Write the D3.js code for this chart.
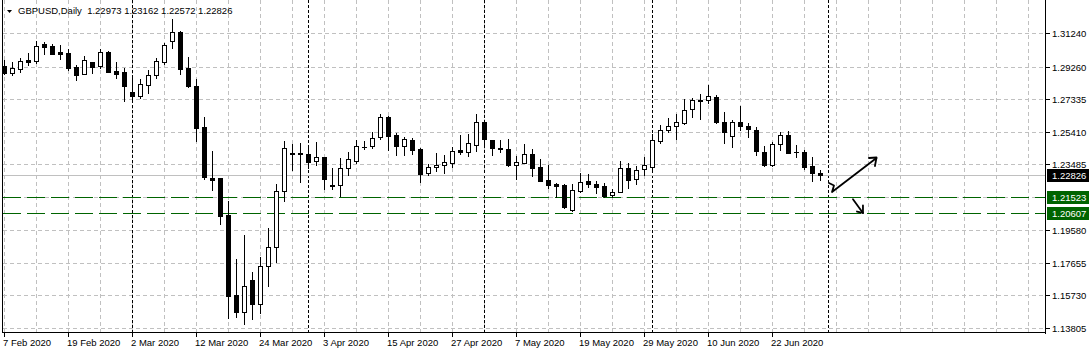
<!DOCTYPE html>
<html>
<head>
<meta charset="utf-8">
<script src="https://cdnjs.cloudflare.com/ajax/libs/d3/7.8.5/d3.min.js"></script>
<style>
  html, body { margin: 0; padding: 0; background: #fff; }
  svg { display: block; }
</style>
</head>
<body>
<div id="chart"></div>
<script>
// GBPUSD daily, 7 Feb 2020 .. 30 Jun 2020 (bar index 0..102)
let symbolTitle = "GBPUSD,Daily";
let lastQuote = ["1.22973", "1.23162", "1.22572", "1.22826"];

let open = [
  1.2931, 1.2886, 1.2913, 1.2967, 1.2960, 1.3057, 1.3047, 1.3012, 1.3006, 1.2923,
  1.2883, 1.2953, 1.2931, 1.3012, 1.2899, 1.2893, 1.2777, 1.2753, 1.2818, 1.2874,
  1.2954, 1.3075, 1.3128, 1.2915, 1.2809, 1.2568, 1.2267, 1.2269, 1.2048, 1.1575,
  1.1473, 1.1664, 1.1521, 1.1745, 1.1857, 1.2188, 1.2415, 1.2415, 1.2409, 1.2366,
  1.2390, 1.2226, 1.2224, 1.2324, 1.2369, 1.2451, 1.2454, 1.2508, 1.2630, 1.2519,
  1.2454, 1.2490, 1.2438, 1.2295, 1.2330, 1.2342, 1.2358, 1.2432, 1.2423, 1.2461,
  1.2596, 1.2492, 1.2446, 1.2438, 1.2342, 1.2357, 1.2409, 1.2332, 1.2255, 1.2232,
  1.2226, 1.2080, 1.2192, 1.2249, 1.2232, 1.2218, 1.2168, 1.2182, 1.2328, 1.2259,
  1.2318, 1.2334, 1.2488, 1.2549, 1.2573, 1.2590, 1.2673, 1.2728, 1.2728, 1.2744,
  1.2596, 1.2515, 1.2600, 1.2574, 1.2551, 1.2421, 1.2342, 1.2468, 1.2519, 1.2421,
  1.2421, 1.2338, 1.22973
];
let high = [
  1.2964, 1.2953, 1.2976, 1.3006, 1.3077, 1.3071, 1.3059, 1.3053, 1.3029, 1.2935,
  1.2990, 1.2953, 1.3028, 1.3018, 1.2953, 1.2919, 1.2857, 1.2852, 1.2905, 1.2976,
  1.3067, 1.3205, 1.3138, 1.2980, 1.2852, 1.2628, 1.2427, 1.2269, 1.2133, 1.1788,
  1.1930, 1.1710, 1.1800, 1.1972, 1.2230, 1.2486, 1.2466, 1.2476, 1.2456, 1.2478,
  1.2390, 1.2324, 1.2385, 1.2419, 1.2490, 1.2488, 1.2539, 1.2647, 1.2634, 1.2531,
  1.2511, 1.2503, 1.2442, 1.2348, 1.2415, 1.2405, 1.2450, 1.2519, 1.2525, 1.2644,
  1.2600, 1.2492, 1.2492, 1.2499, 1.2400, 1.2468, 1.2437, 1.2378, 1.2344, 1.2240,
  1.2232, 1.2232, 1.2298, 1.2291, 1.2251, 1.2236, 1.2200, 1.2367, 1.2357, 1.2340,
  1.2390, 1.2529, 1.2580, 1.2620, 1.2645, 1.2732, 1.2738, 1.2764, 1.2817, 1.2757,
  1.2655, 1.2610, 1.2692, 1.2594, 1.2567, 1.2456, 1.2482, 1.2541, 1.2543, 1.2462,
  1.2433, 1.2390, 1.23162
];
let low = [
  1.2883, 1.2874, 1.2894, 1.2935, 1.2947, 1.3002, 1.2998, 1.2970, 1.2905, 1.2846,
  1.2883, 1.2889, 1.2915, 1.2895, 1.2858, 1.2724, 1.2728, 1.2742, 1.2771, 1.2858,
  1.2941, 1.3037, 1.2882, 1.2807, 1.2488, 1.2263, 1.2198, 1.1997, 1.1441, 1.1447,
  1.1402, 1.1435, 1.1467, 1.1631, 1.1771, 1.2129, 1.2314, 1.2242, 1.2328, 1.2344,
  1.2204, 1.2204, 1.2163, 1.2287, 1.2354, 1.2437, 1.2443, 1.2499, 1.2434, 1.2405,
  1.2405, 1.2407, 1.2245, 1.2283, 1.2308, 1.2298, 1.2334, 1.2409, 1.2397, 1.2428,
  1.2470, 1.2403, 1.2423, 1.2338, 1.2260, 1.2354, 1.2279, 1.2251, 1.2206, 1.2157,
  1.2090, 1.2070, 1.2186, 1.2212, 1.2180, 1.2157, 1.2153, 1.2182, 1.2206, 1.2232,
  1.2285, 1.2318, 1.2476, 1.2541, 1.2499, 1.2584, 1.2629, 1.2618, 1.2708, 1.2590,
  1.2472, 1.2452, 1.2550, 1.2511, 1.2403, 1.2340, 1.2338, 1.2432, 1.2413, 1.2389,
  1.2318, 1.2251, 1.22572
];
let close = [
  1.2889, 1.2915, 1.2957, 1.2953, 1.3045, 1.3043, 1.3002, 1.3002, 1.2919, 1.2876,
  1.2964, 1.2925, 1.3012, 1.2895, 1.2883, 1.2813, 1.2753, 1.2821, 1.2874, 1.2957,
  1.3053, 1.3128, 1.2911, 1.2813, 1.2564, 1.2271, 1.2257, 1.2044, 1.1571, 1.1477,
  1.1627, 1.1524, 1.1745, 1.1857, 1.2188, 1.2443, 1.2407, 1.2409, 1.2363, 1.2390,
  1.2263, 1.2218, 1.2324, 1.2377, 1.2454, 1.2449, 1.2502, 1.2626, 1.2517, 1.2454,
  1.2496, 1.2434, 1.2292, 1.2330, 1.2342, 1.2362, 1.2427, 1.2422, 1.2472, 1.2596,
  1.2496, 1.2443, 1.2438, 1.2344, 1.2362, 1.2409, 1.2328, 1.2251, 1.2228, 1.2222,
  1.2097, 1.2196, 1.2242, 1.2230, 1.2216, 1.2159, 1.2183, 1.2328, 1.2257, 1.2316,
  1.2342, 1.2492, 1.2551, 1.2573, 1.2598, 1.2667, 1.2726, 1.2724, 1.2750, 1.2600,
  1.2541, 1.2600, 1.2574, 1.2555, 1.2425, 1.2346, 1.2468, 1.2519, 1.2416, 1.2420,
  1.2330, 1.2295, 1.22826
];

let xTickIndex = [0, 8, 16, 24, 32, 40, 48, 56, 64, 72, 80, 88, 96];
let xTickLabels = ["7 Feb 2020", "19 Feb 2020", "2 Mar 2020", "12 Mar 2020", "24 Mar 2020",
  "3 Apr 2020", "15 Apr 2020", "27 Apr 2020", "7 May 2020", "19 May 2020",
  "29 May 2020", "10 Jun 2020", "22 Jun 2020"];
let monthStarts = [16, 38, 60, 81, 103];
let yTickValues = [1.31240, 1.29260, 1.27335, 1.25410, 1.23485, 1.19580, 1.17655, 1.15730, 1.13805];
let yGridValues = [1.31240, 1.29260, 1.27335, 1.25410, 1.23485, 1.21560, 1.19580, 1.17655, 1.15730, 1.13805];
let bidPrice = 1.22826;
let levelPrices = [1.21523, 1.20607];

// hand drawn arrows, [bar index, price]
let arrowUp = [[103.12, 1.22375], [103.75, 1.22227], [103.5, 1.21843], [109.06, 1.23852]];
let arrowUpHead = [[108.12, 1.23852], [109.06, 1.23882], [108.87, 1.23379]];
let arrowDown = [[106.12, 1.21411], [107.37, 1.20602]];
let arrowDownHead = [[106.62, 1.20690], [107.37, 1.20602], [107.37, 1.21045]];

let width = 1091, height = 353;
let plot = {left: 3, right: 1045, top: 0, bottom: 333};
let fontFamily = "'Liberation Sans', Arial, sans-serif";
let fontSize = "9.5px";
let green = "#006400";
let gridColor = "#c0c0c0";

let bars = open.map((o, i) => ({i, o, h: high[i], l: low[i], c: close[i]}));

let x = d3.scaleLinear().domain([0, 130]).range([4, 1044]);
let y = d3.scaleLinear().domain([1.13805, 1.31240]).range([328, 33]);
let px = v => Math.round(x(v));
let py = v => Math.round(y(v));

let svg = d3.select("#chart").append("svg")
  .attr("width", width)
  .attr("height", height)
  .attr("font-family", fontFamily)
  .attr("font-size", fontSize);

svg.append("rect").attr("width", width).attr("height", height).attr("fill", "#fff");

svg.append("clipPath").attr("id", "plotClip")
  .append("rect")
  .attr("x", plot.left).attr("y", plot.top)
  .attr("width", plot.right - plot.left).attr("height", plot.bottom - plot.top);

let g = svg.append("g").attr("clip-path", "url(#plotClip)").attr("shape-rendering", "crispEdges");

// grid
g.append("g").selectAll("line")
  .data(d3.range(0, 131, 4))
  .join("line")
  .attr("x1", d => px(d) + 0.5).attr("x2", d => px(d) + 0.5)
  .attr("y1", plot.top).attr("y2", plot.bottom)
  .attr("stroke", gridColor).attr("stroke-dasharray", "4,3");

g.append("g").selectAll("line")
  .data(yGridValues)
  .join("line")
  .attr("x1", plot.left).attr("x2", plot.right)
  .attr("y1", d => py(d) + 0.5).attr("y2", d => py(d) + 0.5)
  .attr("stroke", gridColor).attr("stroke-dasharray", "4,3");

// period separators
g.append("g").selectAll("line")
  .data(monthStarts)
  .join("line")
  .attr("x1", d => px(d) + 0.5).attr("x2", d => px(d) + 0.5)
  .attr("y1", plot.top).attr("y2", plot.bottom)
  .attr("stroke", "#000").attr("stroke-dasharray", "3,2");

// bid line + levels
g.append("line")
  .attr("x1", plot.left).attr("x2", plot.right)
  .attr("y1", py(bidPrice) + 0.5).attr("y2", py(bidPrice) + 0.5)
  .attr("stroke", gridColor);

g.append("g").selectAll("line")
  .data(levelPrices)
  .join("line")
  .attr("x1", plot.left).attr("x2", plot.right)
  .attr("y1", d => py(d) + 0.5).attr("y2", d => py(d) + 0.5)
  .attr("stroke", green).attr("stroke-dasharray", "18,6");

// candles
let candle = g.append("g").selectAll("g")
  .data(bars)
  .join("g");

candle.append("line")
  .attr("x1", d => px(d.i) + 0.5).attr("x2", d => px(d.i) + 0.5)
  .attr("y1", d => py(d.h)).attr("y2", d => py(d.l) + 1)
  .attr("stroke", "#000");

candle.append("rect")
  .attr("x", d => d.c >= d.o ? px(d.i) - 1.5 : px(d.i) - 2)
  .attr("y", d => d.c >= d.o ? py(Math.max(d.o, d.c)) + 0.5 : py(Math.max(d.o, d.c)))
  .attr("width", d => d.c >= d.o ? 4 : 5)
  .attr("height", d => {
    let hgt = py(Math.min(d.o, d.c)) - py(Math.max(d.o, d.c));
    return d.c >= d.o ? Math.max(1, hgt) : Math.max(1, hgt + 1);
  })
  .attr("fill", d => d.c >= d.o ? "#fff" : "#000")
  .attr("stroke", d => d.c >= d.o ? "#000" : "none");

// arrows
let line = d3.line().x(d => x(d[0])).y(d => y(d[1]));
let arrows = svg.append("g")
  .attr("fill", "none").attr("stroke", "#000")
  .attr("stroke-width", 1.8).attr("stroke-linejoin", "round").attr("stroke-linecap", "round");
[arrowUp, arrowUpHead, arrowDown, arrowDownHead].forEach(pts => {
  arrows.append("path").attr("d", line(pts));
});

// frame
let frame = svg.append("g").attr("stroke", "#000").attr("shape-rendering", "crispEdges");
frame.append("line").attr("x1", plot.left - 0.5).attr("x2", plot.left - 0.5).attr("y1", 0).attr("y2", plot.bottom);
frame.append("line").attr("x1", plot.right + 0.5).attr("x2", plot.right + 0.5).attr("y1", 0).attr("y2", plot.bottom + 1);
frame.append("line").attr("x1", plot.left - 1).attr("x2", plot.right + 1).attr("y1", plot.bottom - 0.5).attr("y2", plot.bottom - 0.5);

// x axis
let xAxis = svg.append("g");
xAxis.selectAll("line")
  .data(xTickIndex)
  .join("line")
  .attr("shape-rendering", "crispEdges")
  .attr("x1", d => px(d) + 0.5).attr("x2", d => px(d) + 0.5)
  .attr("y1", plot.bottom).attr("y2", plot.bottom + 4)
  .attr("stroke", "#000");
xAxis.selectAll("text")
  .data(xTickIndex)
  .join("text")
  .attr("x", d => px(d) - 1)
  .attr("y", 345.5)
  .attr("fill", "#000")
  .text((d, i) => xTickLabels[i]);

// y axis
let yAxis = svg.append("g");
yAxis.selectAll("line")
  .data(yTickValues)
  .join("line")
  .attr("shape-rendering", "crispEdges")
  .attr("x1", plot.right + 1).attr("x2", plot.right + 5)
  .attr("y1", d => py(d) + 0.5).attr("y2", d => py(d) + 0.5)
  .attr("stroke", "#000");
yAxis.selectAll("text")
  .data(yTickValues)
  .join("text")
  .attr("x", 1052)
  .attr("y", d => py(d) + 4)
  .attr("fill", "#000")
  .text(d => d.toFixed(5));

// price tags
let tags = [{v: bidPrice, bg: "#000"}].concat(levelPrices.map(v => ({v, bg: green})));
let tag = svg.append("g").selectAll("g")
  .data(tags)
  .join("g");
tag.append("rect")
  .attr("shape-rendering", "crispEdges")
  .attr("x", plot.right + 2).attr("y", d => py(d.v) - 6)
  .attr("width", 42).attr("height", 13)
  .attr("fill", d => d.bg);
tag.append("text")
  .attr("x", 1052).attr("y", d => py(d.v) + 4)
  .attr("fill", "#fff")
  .text(d => d.v.toFixed(5));

// title
svg.append("path").attr("d", "M7,10L12,10L9.5,13Z").attr("fill", "#000");
svg.append("text")
  .attr("x", 18).attr("y", 14)
  .attr("fill", "#000")
  .attr("xml:space", "preserve")
  .text(symbolTitle + "  " + lastQuote.join(" "));
</script>
</body>
</html>
